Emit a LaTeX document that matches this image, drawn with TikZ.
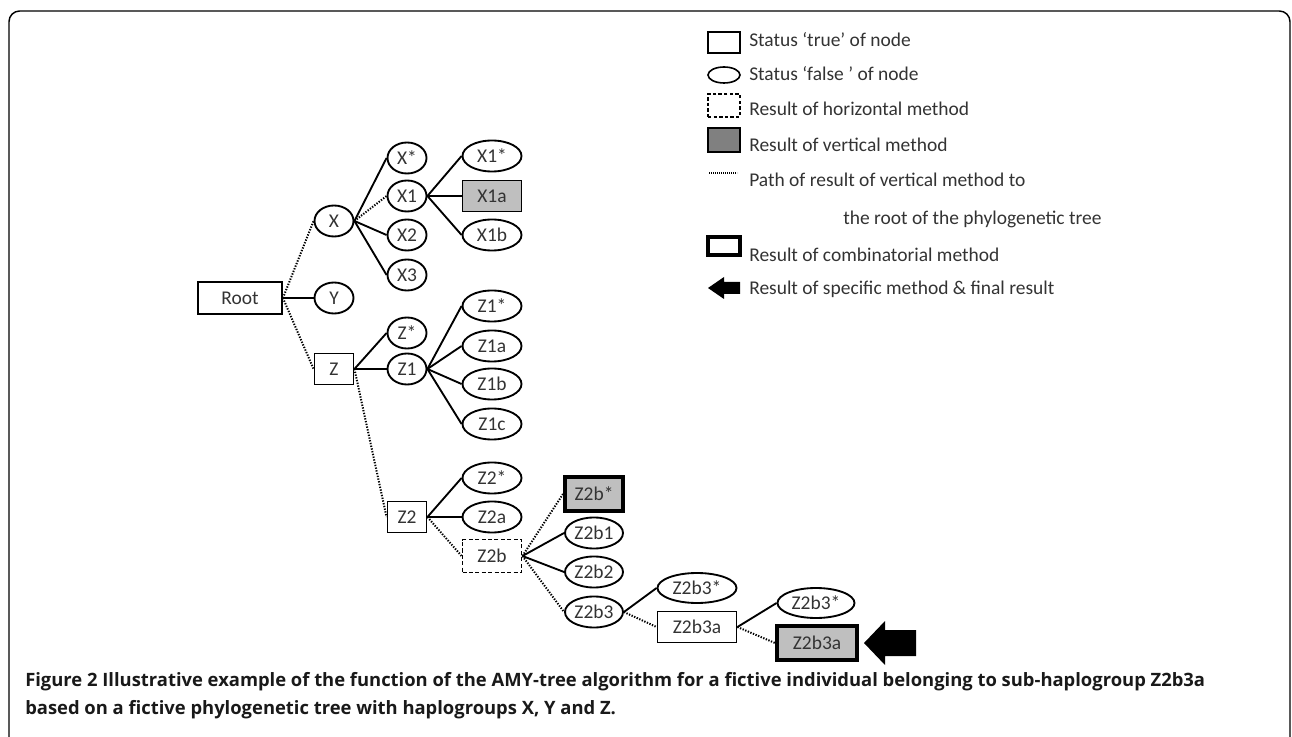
\documentclass[tikz,border=0pt]{standalone}
\usepackage{fontspec}
\setmainfont{Carlito}
\newfontfamily\capfont{Open Sans}
\usetikzlibrary{shapes.geometric}
\definecolor{txt}{HTML}{333333}
\definecolor{lg}{HTML}{BFBFBF}
\definecolor{dg}{HTML}{808080}
\begin{document}
\begin{tikzpicture}[x=0.75pt,y=-0.75pt,
  base/.style={draw, line width=1.4pt, inner sep=0pt, text=txt,
    font=\fontsize{14.6}{17}\selectfont, minimum width=29.25pt, minimum height=23.25pt},
  tbox/.style={base, rectangle},
  fell/.style={base, ellipse},
  wide/.style={minimum width=44.25pt},
  wider/.style={minimum width=59.25pt, minimum height=22.5pt},
  vres/.style={fill=lg},
  comb/.style={line width=3pt},
  horiz/.style={dash pattern=on 3pt off 1.8pt},
  br/.style={line width=1.4pt},
  vpath/.style={line width=1.5pt, dash pattern=on 1pt off 1.1pt},
  leg/.style={text=txt, font=\fontsize{14.6}{17}\selectfont, anchor=west, inner sep=0pt},
  licon/.style={draw, line width=1.2pt, inner sep=0pt, minimum width=24pt},
  capt/.style={anchor=west, inner sep=0pt, text=black!90, font=\capfont\bfseries\fontsize{13.8}{16}\selectfont}
]
\useasboundingbox (0,0) rectangle (1292,737);
% frame
\draw[line width=1.1pt, rounded corners=8pt] (9,740) -- (9,11) -- (1290,11) -- (1290,740);

% tree nodes
\node[tbox, minimum width=63pt, minimum height=24pt] (root) at (240,298) {Root};
\node[fell] (X) at (334,221) {X};
\node[fell] (Y) at (334,298) {Y};
\node[tbox] (Z) at (334,369) {Z};
\node[fell] (Xs) at (407,158) {X*};
\node[fell] (X1) at (407,196) {X1};
\node[fell] (X2) at (407,235) {X2};
\node[fell] (X3) at (407,275) {X3};
\node[fell, wide] (X1s) at (492,156) {X1*};
\node[tbox, wide, vres] (X1a) at (492,196) {X1a};
\node[fell, wide] (X1b) at (492,235) {X1b};
\node[fell] (Zs) at (407,333) {Z*};
\node[fell] (Z1) at (407,369) {Z1};
\node[fell, wide] (Z1s) at (492,306) {Z1*};
\node[fell, wide] (Z1a) at (492,346) {Z1a};
\node[fell, wide] (Z1b) at (492,384) {Z1b};
\node[fell, wide] (Z1c) at (492,424) {Z1c};
\node[tbox] (Z2) at (407,517) {Z2};
\node[fell, wide] (Z2s) at (492,478) {Z2*};
\node[fell, wide] (Z2a) at (492,517) {Z2a};
\node[tbox, wide, horiz, minimum height=24.75pt] (Z2b) at (492,556) {Z2b};
\node[tbox, wide, vres, comb, minimum width=43.5pt, minimum height=25.5pt] (Z2bs) at (594,494) {Z2b*};
\node[fell, wide, minimum width=43.5pt] (Z2b1) at (594,533) {Z2b1};
\node[fell, wide, minimum width=43.5pt] (Z2b2) at (594,572) {Z2b2};
\node[fell, wide, minimum width=43.5pt] (Z2b3) at (594,612) {Z2b3};
\node[fell, wider] (Z2b3s) at (697,588) {Z2b3*};
\node[tbox, wider, minimum height=23.25pt] (Z2b3a) at (697,627) {Z2b3a};
\node[fell, wider, minimum width=57.75pt] (Z2b3s2) at (816,603) {Z2b3*};
\node[tbox, vres, comb, minimum width=60pt, minimum height=25.5pt] (fin) at (817,643) {Z2b3a};

% final arrow
\fill[black] (864,643) -- (885,621) -- (885,630) -- (916,630) -- (916,656) -- (885,656) -- (885,665) -- cycle;

% edges
\draw[vpath] (root.east) -- (X.west);
\draw[br] (root.east) -- (Y.west);
\draw[vpath] (root.east) -- (Z.west);
\draw[br] (X.east) -- (Xs.west);
\draw[vpath] (X.east) -- (X1.west);
\draw[br] (X.east) -- (X2.west);
\draw[br] (X.east) -- (X3.west);
\draw[br] (X1.east) -- (X1s.west);
\draw[br] (X1.east) -- (X1a.west);
\draw[br] (X1.east) -- (X1b.west);
\draw[br] (Z.east) -- (Zs.west);
\draw[br] (Z.east) -- (Z1.west);
\draw[vpath] (Z.east) -- (Z2.west);
\draw[br] (Z1.east) -- (Z1s.west);
\draw[br] (Z1.east) -- (Z1a.west);
\draw[br] (Z1.east) -- (Z1b.west);
\draw[br] (Z1.east) -- (Z1c.west);
\draw[br] (Z2.east) -- (Z2s.west);
\draw[br] (Z2.east) -- (Z2a.west);
\draw[vpath] (Z2.east) -- (Z2b.west);
\draw[vpath] (Z2b.east) -- (Z2bs.west);
\draw[br] (Z2b.east) -- (Z2b1.west);
\draw[br] (Z2b.east) -- (Z2b2.west);
\draw[vpath] (Z2b.east) -- (Z2b3.west);
\draw[br] (Z2b3.east) -- (Z2b3s.west);
\draw[vpath] (Z2b3.east) -- (Z2b3a.west);
\draw[br] (Z2b3a.east) -- (Z2b3s2.west);
\draw[vpath] (Z2b3a.east) -- (fin.west);

% legend
\node[licon, rectangle, minimum height=15.75pt] (lbox) at (724,42.5) {};
\node[licon, ellipse, minimum height=12pt] (lell) at (724,75) {};
\node[licon, rectangle, minimum height=17pt, dash pattern=on 2.6pt off 1.6pt] (ldash) at (724,105.5) {};
\node[licon, rectangle, minimum height=18pt, fill=dg] (lgray) at (724,140) {};
\coordinate (ldot1) at (709,173);
\coordinate (ldot2) at (737,173);
\draw[line width=0.8pt, dash pattern=on 0.6pt off 0.9pt] (ldot1) -- (ldot2);
\node[licon, rectangle, minimum height=13.5pt, line width=2.6pt] (lcomb) at (724,246) {};
\fill[black] (708,288) -- (724,277) -- (724,282) -- (740,282) -- (740,294) -- (724,294) -- (724,299) -- cycle;

\node[leg] (t1) at (749,40) {Status ‘true’ of node};
\node[leg] (t2) at (749,74) {Status ‘false ’ of node};
\node[leg] (t3) at (749,109) {Result of horizontal method};
\node[leg] (t4) at (749,145) {Result of vertical method};
\node[leg] (t5) at (749,180) {Path of result of vertical method to};
\node[leg] (t6) at (843,219) {the root of the phylogenetic tree};
\node[leg] (t7) at (749,255) {Result of combinatorial method};
\node[leg] (t8) at (749,289) {Result of specific method \& final result};

% caption
\node[capt] (cap1) at (25,682)
  {Figure 2 Illustrative example of the function of the AMY-tree algorithm for a fictive individual belonging to sub-haplogroup Z2b3a};
\node[capt] (cap2) at (25,710)
  {based on a fictive phylogenetic tree with haplogroups X, Y and Z.};
\end{tikzpicture}
\end{document}
